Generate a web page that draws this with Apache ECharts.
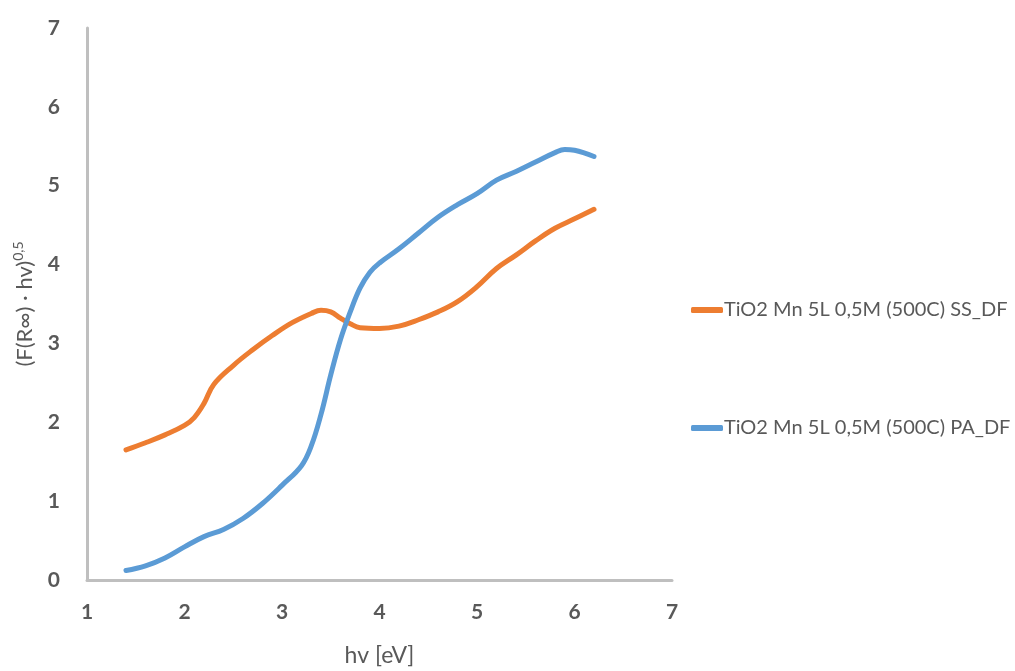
<!DOCTYPE html>
<html><head><meta charset="utf-8">
<script src="https://cdn.jsdelivr.net/npm/echarts@6/dist/echarts.min.js"></script>
<style>html,body{margin:0;padding:0;background:#fff}#c{width:1015px;height:671px}</style>
</head><body><div id="c"></div>
<script>
const ssName = 'TiO2 Mn 5L 0,5M (500C) SS_DF';
const paName = 'TiO2 Mn 5L 0,5M (500C) PA_DF';
const ssX = [1.4,1.6,1.8,2.0,2.1,2.2,2.3,2.5,2.7,2.9,3.1,3.3,3.4,3.5,3.6,3.7,3.8,4.0,4.2,4.4,4.6,4.8,5.0,5.2,5.4,5.6,5.8,6.0,6.2];
const ssY = [1.65,1.74,1.84,1.96,2.06,2.24,2.48,2.72,2.92,3.1,3.26,3.38,3.42,3.40,3.32,3.25,3.2,3.19,3.22,3.3,3.4,3.53,3.72,3.95,4.12,4.3,4.46,4.58,4.7];
const paX = [1.4,1.6,1.8,2.0,2.2,2.4,2.6,2.8,3.0,3.2,3.3,3.4,3.5,3.6,3.7,3.8,3.9,4.0,4.2,4.4,4.6,4.8,5.0,5.2,5.4,5.6,5.8,5.9,6.0,6.2];
const paY = [0.12,0.18,0.28,0.42,0.55,0.64,0.78,0.97,1.2,1.45,1.7,2.1,2.6,3.05,3.4,3.7,3.9,4.02,4.2,4.4,4.6,4.76,4.9,5.07,5.18,5.3,5.42,5.46,5.45,5.37];
const xTicks = {min:1, max:7, interval:1};
const yTicks = {min:0, max:7, interval:1};

const font = 'Lato, "Open Sans", sans-serif';
const chart = echarts.init(document.getElementById('c'));
chart.setOption({
  animation:false,
  textStyle:{fontFamily:font},
  grid:{left:87, right:343, top:28, bottom:91, containLabel:false, outerBoundsMode:'none'},
  legend:{
    orient:'vertical', left:686, top:295, itemGap:98,
    icon:'roundRect', itemWidth:32, itemHeight:6,
    textStyle:{color:'#595959', fontSize:20, fontFamily:font, padding:[0,0,0,-4]},
    data:[ssName, paName]
  },
  xAxis:{
    type:'value', min:xTicks.min, max:xTicks.max, interval:xTicks.interval,
    name:'hv [eV]', nameLocation:'middle', nameGap:64,
    nameTextStyle:{color:'#595959', fontSize:23, fontFamily:font},
    axisLine:{lineStyle:{color:'#bfbfbf', width:3}},
    axisTick:{show:false}, splitLine:{show:false},
    axisLabel:{color:'#595959', fontSize:21, fontWeight:'bold', margin:22}
  },
  yAxis:{
    type:'value', min:yTicks.min, max:yTicks.max, interval:yTicks.interval,
    name:'{a|(F(R∞) · hv)}{b|0,5}', nameLocation:'middle', nameGap:49,
    nameTextStyle:{color:'#595959', fontFamily:font, padding:[0,0,0,0],
      rich:{a:{fontSize:22, color:'#595959', fontFamily:font},
            b:{fontSize:14, color:'#595959', fontFamily:font, verticalAlign:'top', padding:[0,0,13,0]}}},
    axisLine:{show:true, lineStyle:{color:'#bfbfbf', width:3}},
    axisTick:{show:false}, splitLine:{show:false},
    axisLabel:{color:'#595959', fontSize:21, fontWeight:'bold', margin:27}
  },
  series:[
    {name:ssName, type:'line', smooth:0.4, symbol:'none', color:'#ED7D31',
     lineStyle:{width:5, cap:'round', join:'round'},
     data: ssX.map((x,i)=>[x, ssY[i]])},
    {name:paName, type:'line', smooth:0.4, symbol:'none', color:'#5B9BD5',
     lineStyle:{width:5, cap:'round', join:'round'},
     data: paX.map((x,i)=>[x, paY[i]])}
  ]
});
</script></body></html>
